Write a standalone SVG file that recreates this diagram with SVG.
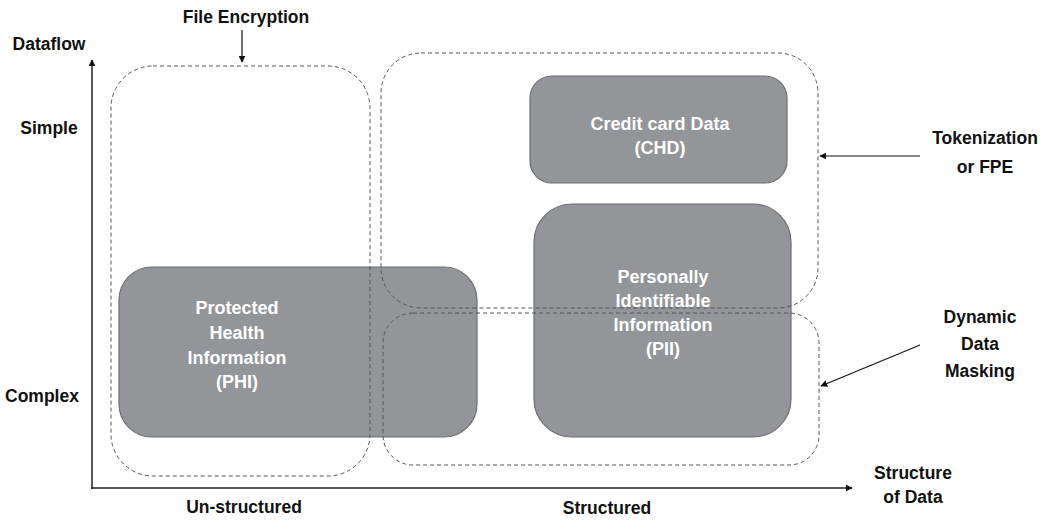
<svg xmlns="http://www.w3.org/2000/svg" width="1053" height="522" viewBox="0 0 1053 522">
  <style>
    .lbl { font-family: "Liberation Sans", Arial, sans-serif; font-weight: bold; font-size: 17.5px; fill: #111; text-anchor: middle; }
    .node rect { fill: #939598; stroke: #6d6e71; stroke-width: 1.2; }
    .node text { font-family: "Liberation Sans", Arial, sans-serif; font-weight: bold; font-size: 18px; fill: #ffffff; text-anchor: middle; }
    .zone { fill: none; stroke: #555; stroke-width: 1; stroke-dasharray: 4 3; }
    .axis { stroke: #222; stroke-width: 1.5; fill: none; }
    .conn { stroke: #111; stroke-width: 1.2; fill: none; }
  </style>
  <defs>
    <marker id="arrow" viewBox="0 0 10 10" refX="9" refY="5" markerWidth="7" markerHeight="7" markerUnits="userSpaceOnUse" orient="auto">
      <path d="M0,0 L10,5 L0,10 z" fill="#111"/>
    </marker>
  </defs>
  <rect width="1053" height="522" fill="#ffffff"/>

  <!-- data category nodes -->
  <g id="node-chd" class="node">
    <rect x="530" y="76" width="257" height="107" rx="22"/>
    <text x="660" y="130">Credit card Data</text>
    <text x="660" y="154">(CHD)</text>
  </g>
  <g id="node-pii" class="node">
    <rect x="534" y="204" width="257" height="233" rx="38"/>
    <text x="663" y="283">Personally</text>
    <text x="663" y="307">Identifiable</text>
    <text x="663" y="331">Information</text>
    <text x="663" y="355">(PII)</text>
  </g>
  <g id="node-phi" class="node">
    <rect x="119" y="267" width="358" height="170" rx="33"/>
    <text x="237" y="314">Protected</text>
    <text x="237" y="339">Health</text>
    <text x="237" y="364">Information</text>
    <text x="237" y="388">(PHI)</text>
  </g>

  <!-- protection zones (dashed) -->
  <g id="zone-file-encryption">
    <rect class="zone" x="111" y="66" width="259" height="410" rx="42"/>
  </g>
  <g id="zone-tokenization">
    <rect class="zone" x="381" y="53" width="437" height="255" rx="40"/>
  </g>
  <g id="zone-masking">
    <rect class="zone" x="383" y="313" width="436" height="152" rx="30"/>
  </g>

  <!-- axes and pointers -->
  <g id="connectors">
    <line class="axis" x1="92" y1="489" x2="92" y2="60" marker-end="url(#arrow)"/>
    <line class="axis" x1="91" y1="488" x2="852" y2="488" marker-end="url(#arrow)"/>
    <line class="conn" x1="242" y1="30" x2="242" y2="62" marker-end="url(#arrow)"/>
    <line class="conn" x1="920" y1="156" x2="820" y2="156" marker-end="url(#arrow)"/>
    <line class="conn" x1="920" y1="345" x2="821" y2="386" marker-end="url(#arrow)"/>
  </g>

  <!-- labels -->
  <g id="labels">
    <text class="lbl" x="246" y="23">File Encryption</text>
    <text class="lbl" x="49" y="50">Dataflow</text>
    <text class="lbl" x="49" y="134">Simple</text>
    <text class="lbl" x="42" y="402">Complex</text>
    <text class="lbl" x="244" y="513">Un-structured</text>
    <text class="lbl" x="607" y="514">Structured</text>
    <text class="lbl" x="913" y="479">Structure</text>
    <text class="lbl" x="913" y="503">of Data</text>
    <text class="lbl" x="985" y="144">Tokenization</text>
    <text class="lbl" x="985" y="173">or FPE</text>
    <text class="lbl" x="980" y="323">Dynamic</text>
    <text class="lbl" x="980" y="350">Data</text>
    <text class="lbl" x="980" y="377">Masking</text>
  </g>
</svg>
